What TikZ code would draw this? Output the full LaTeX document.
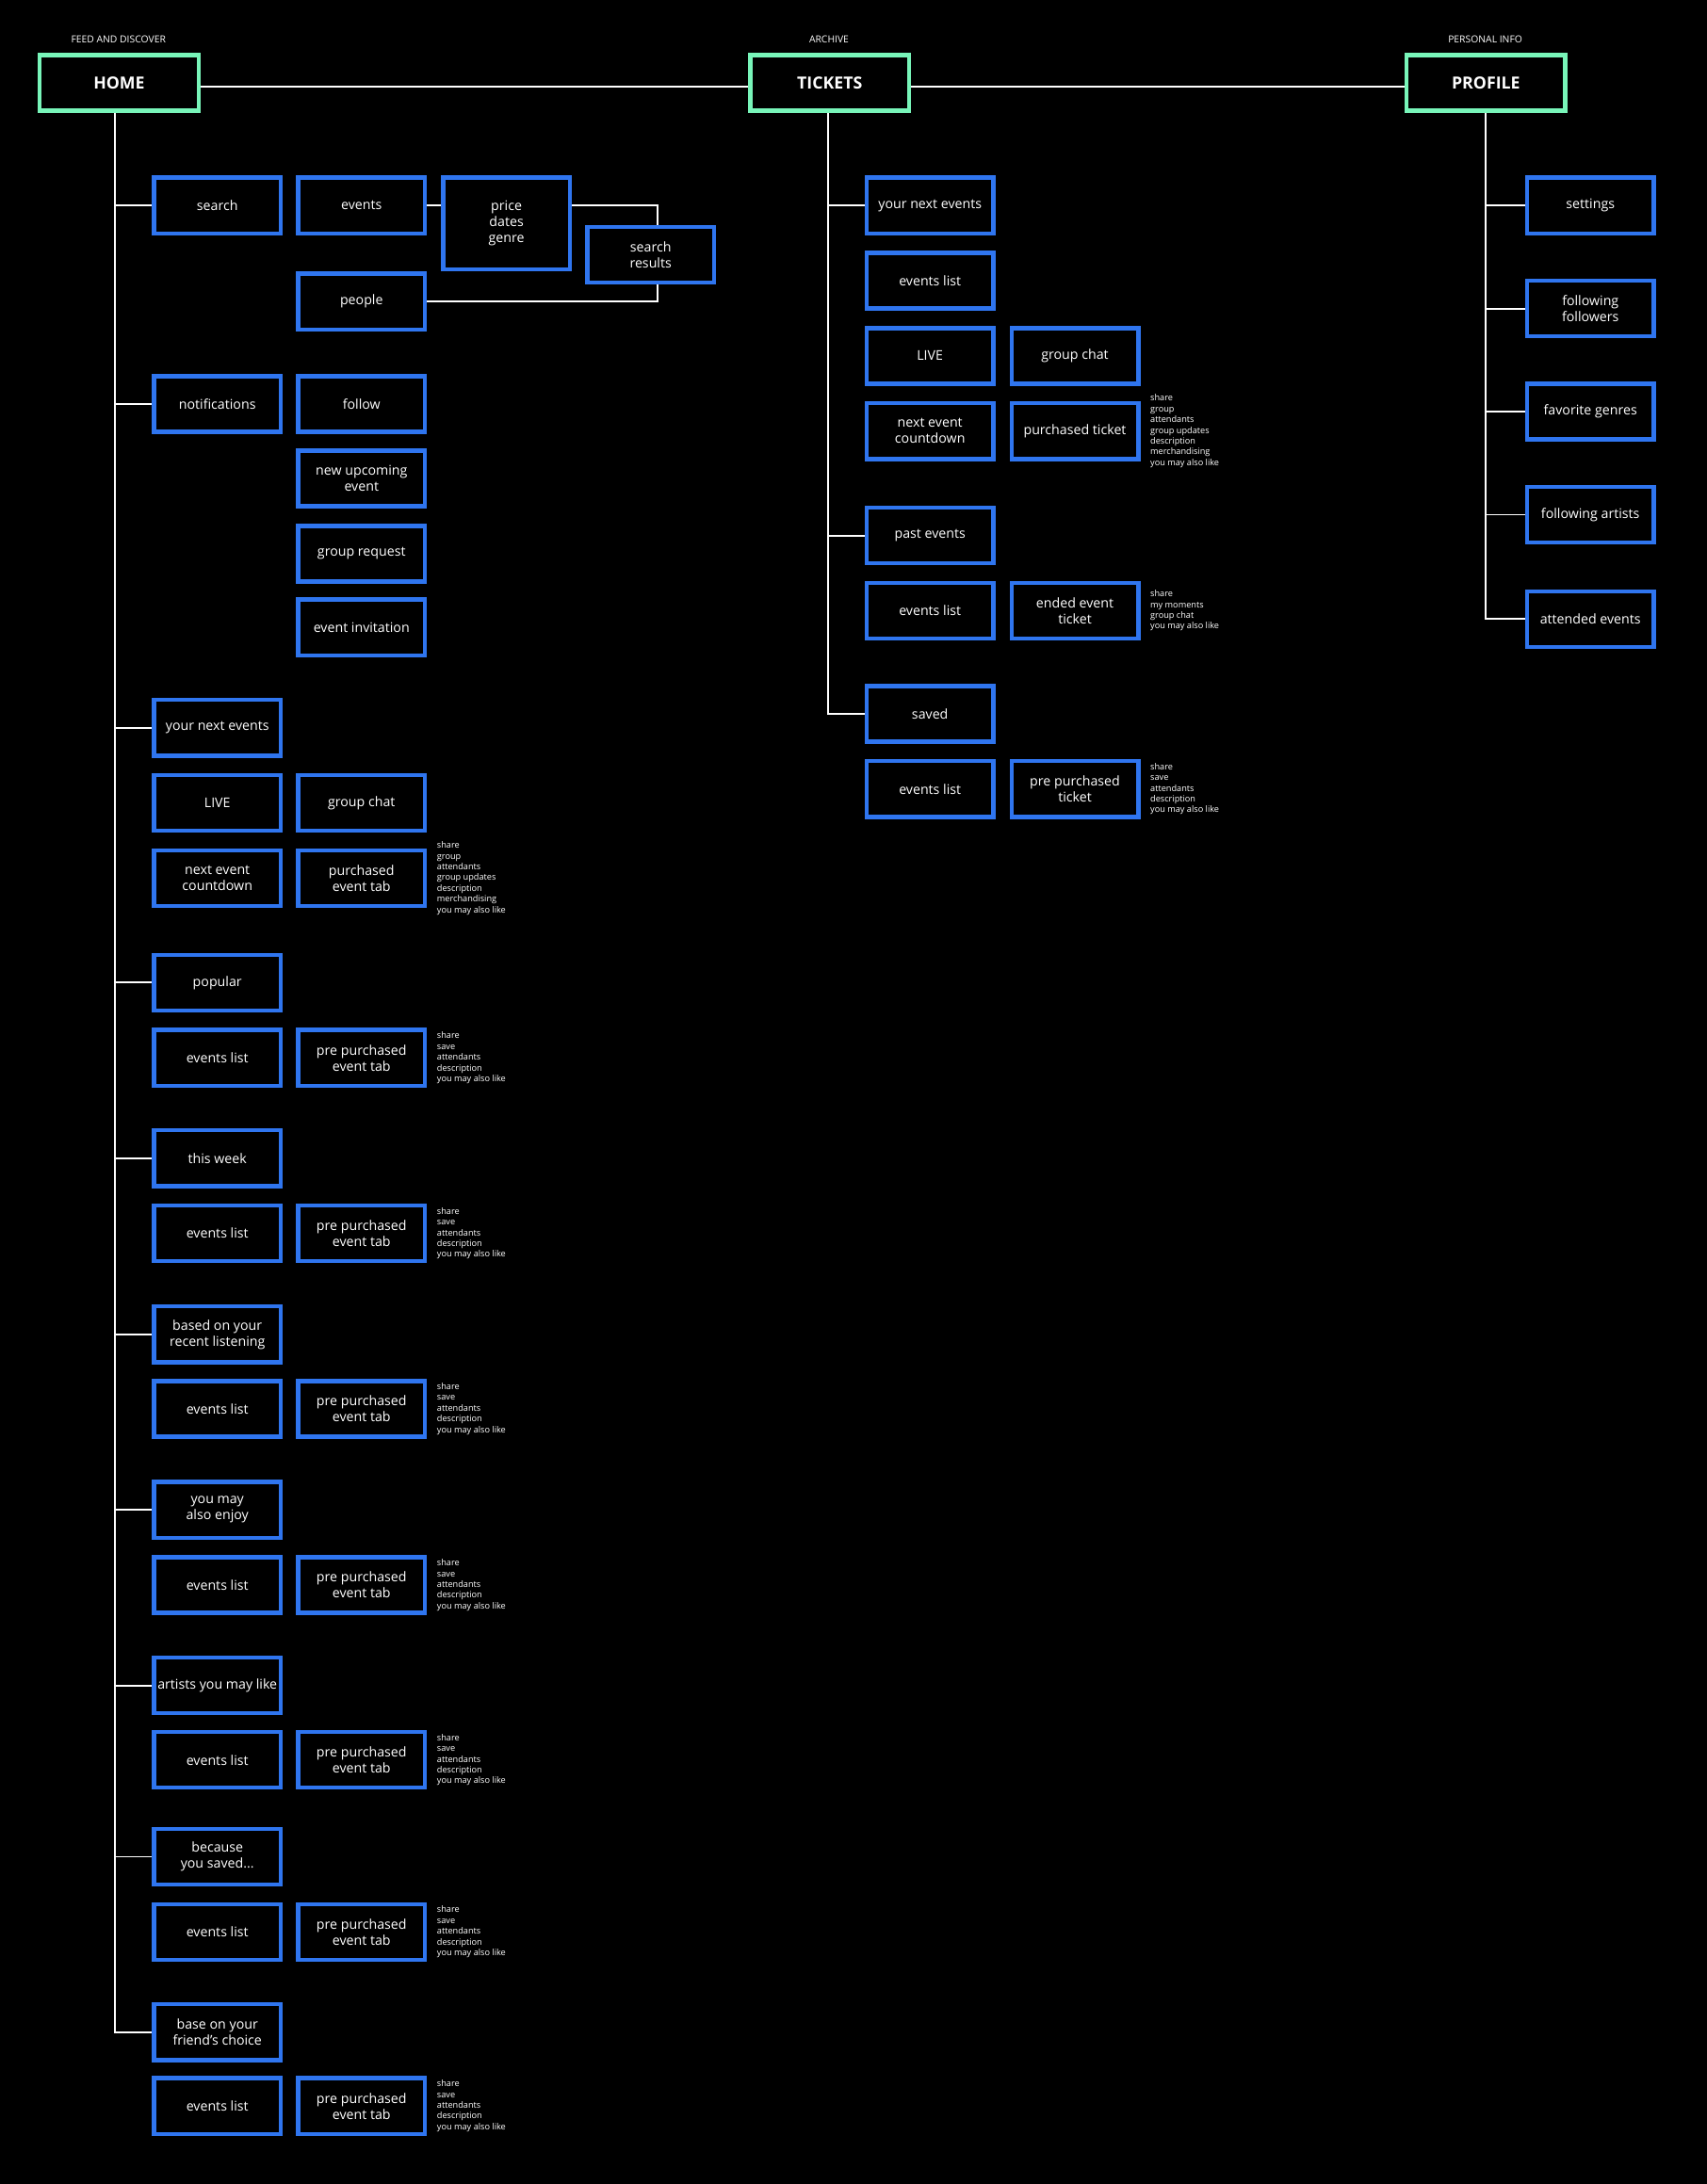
\documentclass[tikz,border=0pt]{standalone}
\usepackage{fontspec}
\setmainfont{Open Sans}
\usepackage{xcolor}
\usepackage{tikz}
\definecolor{mint}{HTML}{78F5B9}
\definecolor{boxblue}{HTML}{2F75EF}

\begin{document}
\begin{tikzpicture}[x=1pt, y=-1pt,
    page/.style={draw=mint, line width=3pt, fill=black, text=white, font=\bfseries\fontsize{12}{14}\selectfont, minimum width=114pt, minimum height=40pt, inner sep=0pt},
    screen/.style={draw=boxblue, line width=3pt, fill=black, text=white, font=\fontsize{9.6}{11.5}\selectfont, minimum width=91pt, minimum height=40pt, inner sep=0pt, align=center},
    tag/.style={text=white, font=\fontsize{7}{8}\selectfont},
    notes/.style={text=white, font=\fontsize{6.2}{7.7}\selectfont, align=left, anchor=west, inner sep=0pt, xshift=7pt},
    link/.style={draw=white, line width=1.3pt}]
          % Background
          \fill[black] (0,0) rectangle (1225,1568);
          \useasboundingbox (0,0) rectangle (1225,1568);

          % Top level pages
          \node[tag] (feedtag) at (85,28) {FEED AND DISCOVER};
          \node[tag] (archivetag) at (595,28) {ARCHIVE};
          \node[tag] (infotag) at (1066,28) {PERSONAL INFO};
          \node[page] (home) at (85.5,59.5) {HOME};
          \node[page] (tickets) at (595.5,59.5) {TICKETS};
          \node[page] (profile) at (1066.5,59.5) {PROFILE};
          \draw[link] ([yshift=-2.5pt]home.east) -- ([yshift=-2.5pt]tickets.west);
          \draw[link] ([yshift=-2.5pt]tickets.east) -- ([yshift=-2.5pt]profile.west);

          % Home: search
          \node[screen] (h-search) at (156,147.5) {search};
          \node[screen] (h-events) at (259.5,147.5) {events};
          \node[screen, minimum height=66pt] (h-filter) at (363.5,160.5) {price\\dates\\genre};
          \node[screen] (h-results) at (467,183) {search\\results};
          \node[screen] (h-people) at (259.5,216.5) {people};
          \draw[link] (h-events.east) -- (h-filter.west |- h-events.east);
          \draw[link] (h-filter.east |- h-events.east) -| ([xshift=5pt]h-results.north);
          \draw[link] (h-people.east) -| ([xshift=5pt]h-results.south);

          % Home: notifications
          \node[screen] (h-notif) at (156,290) {notifications};
          \node[screen] (h-follow) at (259.5,290) {follow};
          \node[screen] (h-upcoming) at (259.5,343.5) {new upcoming\\event};
          \node[screen] (h-request) at (259.5,397.5) {group request};
          \node[screen] (h-invite) at (259.5,450.5) {event invitation};

          % Home: next events
          \node[screen] (h-next) at (156,522.5) {your next events};
          \node[screen] (h-live) at (156,576.5) {LIVE};
          \node[screen] (h-chat) at (259.5,576.5) {group chat};
          \node[screen] (h-count) at (156,630.5) {next event\\countdown};
          \node[screen] (h-bought) at (259.5,630.5) {purchased\\event tab};
          \node[notes] (h-bought-notes) at (h-bought.east) {share\\group\\attendants\\group updates\\description\\merchandising\\you may also like};

          % Home: feeds
          \node[screen] (h-popular) at (156,705.5) {popular};
          \node[screen] (h-list1) at (156,759.5) {events list};
          \node[screen] (h-pre1) at (259.5,759.5) {pre purchased\\event tab};
          \node[notes] (h-pre1-notes) at (h-pre1.east) {share\\save\\attendants\\description\\you may also like};

          \node[screen] (h-week) at (156,831.5) {this week};
          \node[screen] (h-list2) at (156,885.5) {events list};
          \node[screen] (h-pre2) at (259.5,885.5) {pre purchased\\event tab};
          \node[notes] (h-pre2-notes) at (h-pre2.east) {share\\save\\attendants\\description\\you may also like};

          \node[screen] (h-listening) at (156,958) {based on your\\recent listening};
          \node[screen] (h-list3) at (156,1011.5) {events list};
          \node[screen] (h-pre3) at (259.5,1011.5) {pre purchased\\event tab};
          \node[notes] (h-pre3-notes) at (h-pre3.east) {share\\save\\attendants\\description\\you may also like};

          \node[screen] (h-enjoy) at (156,1084) {you may\\also enjoy};
          \node[screen] (h-list4) at (156,1138) {events list};
          \node[screen] (h-pre4) at (259.5,1138) {pre purchased\\event tab};
          \node[notes] (h-pre4-notes) at (h-pre4.east) {share\\save\\attendants\\description\\you may also like};

          \node[screen] (h-artists) at (156,1210) {artists you may like};
          \node[screen] (h-list5) at (156,1263.5) {events list};
          \node[screen] (h-pre5) at (259.5,1263.5) {pre purchased\\event tab};
          \node[notes] (h-pre5-notes) at (h-pre5.east) {share\\save\\attendants\\description\\you may also like};

          \node[screen] (h-saved) at (156,1333) {because\\you saved...};
          \node[screen] (h-list6) at (156,1387) {events list};
          \node[screen] (h-pre6) at (259.5,1387) {pre purchased\\event tab};
          \node[notes] (h-pre6-notes) at (h-pre6.east) {share\\save\\attendants\\description\\you may also like};

          \node[screen] (h-friends) at (156,1459) {base on your\\friend’s choice};
          \node[screen] (h-list7) at (156,1512) {events list};
          \node[screen] (h-pre7) at (259.5,1512) {pre purchased\\event tab};
          \node[notes] (h-pre7-notes) at (h-pre7.east) {share\\save\\attendants\\description\\you may also like};

          % Home trunk
          \coordinate (h-root) at ([xshift=-3pt]home.south);
          \draw[link] (h-root) |- (h-friends.west);
          \draw[link] (h-root |- h-search.west) -- (h-search.west);
          \draw[link] (h-root |- h-notif.west) -- (h-notif.west);
          \draw[link] (h-root |- h-next.west) -- (h-next.west);
          \draw[link] (h-root |- h-popular.west) -- (h-popular.west);
          \draw[link] (h-root |- h-week.west) -- (h-week.west);
          \draw[link] (h-root |- h-listening.west) -- (h-listening.west);
          \draw[link] (h-root |- h-enjoy.west) -- (h-enjoy.west);
          \draw[link] (h-root |- h-artists.west) -- (h-artists.west);
          \draw[link] (h-root |- h-saved.west) -- (h-saved.west);

          % Tickets
          \node[screen] (t-next) at (667.5,147.5) {your next events};
          \node[screen] (t-list1) at (667.5,201.5) {events list};
          \node[screen] (t-live) at (667.5,255.5) {LIVE};
          \node[screen] (t-chat) at (771.5,255.5) {group chat};
          \node[screen] (t-count) at (667.5,309.5) {next event\\countdown};
          \node[screen] (t-ticket) at (771.5,309.5) {purchased ticket};
          \node[notes] (t-ticket-notes) at (t-ticket.east) {share\\group\\attendants\\group updates\\description\\merchandising\\you may also like};
          \node[screen] (t-past) at (667.5,384.5) {past events};
          \node[screen] (t-list2) at (667.5,438.5) {events list};
          \node[screen] (t-ended) at (771.5,438.5) {ended event\\ticket};
          \node[notes] (t-ended-notes) at (t-ended.east) {share\\my moments\\group chat\\you may also like};
          \node[screen] (t-saved) at (667.5,512.5) {saved};
          \node[screen] (t-list3) at (667.5,566.5) {events list};
          \node[screen] (t-pre) at (771.5,566.5) {pre purchased\\ticket};
          \node[notes] (t-pre-notes) at (t-pre.east) {share\\save\\attendants\\description\\you may also like};

          % Tickets trunk
          \coordinate (t-root) at ([xshift=-1pt]tickets.south);
          \draw[link] (t-root) |- (t-saved.west);
          \draw[link] (t-root |- t-next.west) -- (t-next.west);
          \draw[link] (t-root |- t-past.west) -- (t-past.west);

          % Profile
          \node[screen] (p-settings) at (1141.5,147.5) {settings};
          \node[screen] (p-follow) at (1141.5,221.5) {following\\followers};
          \node[screen] (p-genres) at (1141.5,295.5) {favorite genres};
          \node[screen] (p-artists) at (1141.5,369.5) {following artists};
          \node[screen] (p-attended) at (1141.5,444.5) {attended events};

          % Profile trunk
          \coordinate (p-root) at (profile.south);
          \draw[link] (p-root) |- (p-attended.west);
          \draw[link] (p-root |- p-settings.west) -- (p-settings.west);
          \draw[link] (p-root |- p-follow.west) -- (p-follow.west);
          \draw[link] (p-root |- p-genres.west) -- (p-genres.west);
          \draw[link] (p-root |- p-artists.west) -- (p-artists.west);
        \end{tikzpicture}
\end{document}
